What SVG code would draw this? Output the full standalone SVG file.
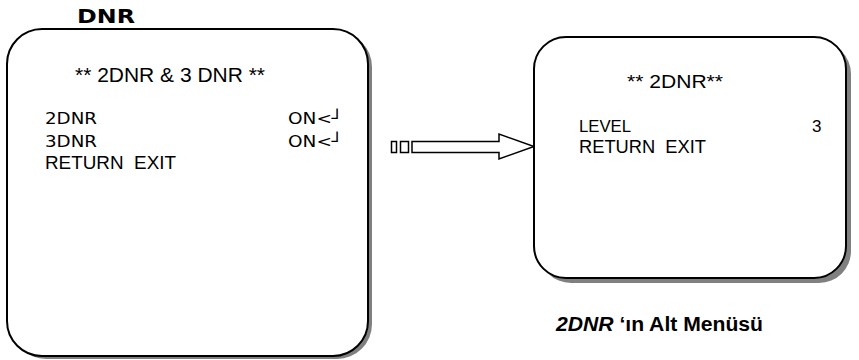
<svg xmlns="http://www.w3.org/2000/svg" width="859" height="360" viewBox="0 0 859 360">
<style>
.box{fill:#fff;stroke:#000;stroke-width:2}
.shadow{fill:#808080}
.ar{font-family:"Liberation Sans",Arial,sans-serif;fill:#000}
.vd{font-family:"DejaVu Sans",Verdana,sans-serif;fill:#000}
.conn{fill:#fff;stroke:#000;stroke-width:1.5}
</style>
<rect width="859" height="360" fill="#fff"/>
<text class="vd" x="77" y="23" font-size="20" font-weight="bold" textLength="58" lengthAdjust="spacingAndGlyphs">DNR</text>
<g id="node-main">
<rect class="shadow" x="11" y="32" width="361" height="327" rx="35" ry="35"/>
<rect class="box" x="7" y="29" width="361" height="327" rx="35" ry="35"/>
<text class="ar" x="75" y="82" font-size="21" textLength="190" lengthAdjust="spacingAndGlyphs">** 2DNR &amp; 3 DNR **</text>
<text class="vd" x="45" y="124" font-size="16.5" textLength="52" lengthAdjust="spacingAndGlyphs">2DNR</text>
<text class="vd" x="288" y="124" font-size="16.5" textLength="55" lengthAdjust="spacingAndGlyphs">ON&lt;┘</text>
<text class="vd" x="45" y="147" font-size="16.5" textLength="52" lengthAdjust="spacingAndGlyphs">3DNR</text>
<text class="vd" x="288" y="147" font-size="16.5" textLength="55" lengthAdjust="spacingAndGlyphs">ON&lt;┘</text>
<text class="ar" x="45" y="169" font-size="18" textLength="131" lengthAdjust="spacingAndGlyphs">RETURN&#160; EXIT</text>
</g>
<g id="connectors">
<rect class="conn" x="391.5" y="141.5" width="5" height="11"/>
<rect class="conn" x="400.5" y="141.5" width="8" height="11"/>
<path class="conn" d="M412 141.5 H499 V134 L534 146.5 L499 159 V152.5 H412 Z"/>
</g>
<g id="node-2dnr">
<rect class="shadow" x="539" y="42" width="312" height="241" rx="32" ry="32"/>
<rect class="box" x="534" y="37" width="312" height="241" rx="32" ry="32"/>
<text class="ar" x="627" y="88" font-size="19" textLength="96" lengthAdjust="spacingAndGlyphs">** 2DNR**</text>
<text class="ar" x="579" y="132" font-size="17" textLength="52" lengthAdjust="spacingAndGlyphs">LEVEL</text>
<text class="ar" x="812" y="132" font-size="17">3</text>
<text class="ar" x="579" y="153" font-size="17.5" textLength="127" lengthAdjust="spacingAndGlyphs">RETURN&#160; EXIT</text>
</g>
<text class="ar" x="556" y="331" font-size="20" font-weight="bold" textLength="207" lengthAdjust="spacingAndGlyphs"><tspan font-style="italic">2DNR</tspan> ‘ın Alt Menüsü</text>
</svg>
